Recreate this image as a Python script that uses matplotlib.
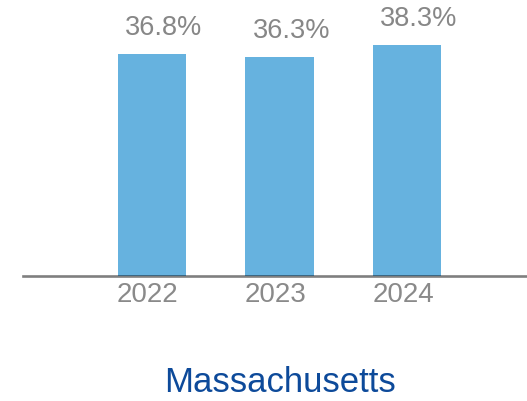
import matplotlib
matplotlib.use("Agg")
import matplotlib.pyplot as plt
import matplotlib.transforms as mtransforms

years = ["2022", "2023", "2024"]
values = [36.8, 36.3, 38.3]
labels = ["36.8%", "36.3%", "38.3%"]
title = "Massachusetts"

plt.rcParams['font.family'] = ['Liberation Sans', 'DejaVu Sans']

fig = plt.figure(figsize=(5.27, 4.01), dpi=100)
ax = fig.add_axes([23/527, 1 - 276/401, 504/527, 276/401])
x = list(range(len(years)))
ax.bar(x, values, width=0.535, color="#66B2DF", zorder=2)
ax.set_xlim(-1.01, 2.94)
ax.set_ylim(0, 45.8)
for xi, v, lab in zip(x, values, labels):
    ax.annotate(lab, (xi, v), xytext=(8.5, 9.5), textcoords="offset points",
                ha="center", va="bottom", fontsize=19.5, color="#878787")
for s in ["top", "right", "left"]:
    ax.spines[s].set_visible(False)
ax.spines["bottom"].set_color((0, 0, 0, 0.5))
ax.spines["bottom"].set_linewidth(1.9)
ax.spines["bottom"].set_zorder(3)
ax.set_yticks([])
ax.set_xticks(x)
ax.set_xticklabels(years, fontsize=20, color="#8a8a8a")
ax.tick_params(axis="x", length=0, pad=4)
offset = mtransforms.ScaledTranslation(-4/100, 0, fig.dpi_scale_trans)
for t in ax.get_xticklabels():
    t.set_transform(t.get_transform() + offset)
fig.text(280/527, 1 - 382/401, title, ha="center", va="center",
         fontsize=25, color="#0D4A9A")
fig.savefig("out.png", dpi=100)
